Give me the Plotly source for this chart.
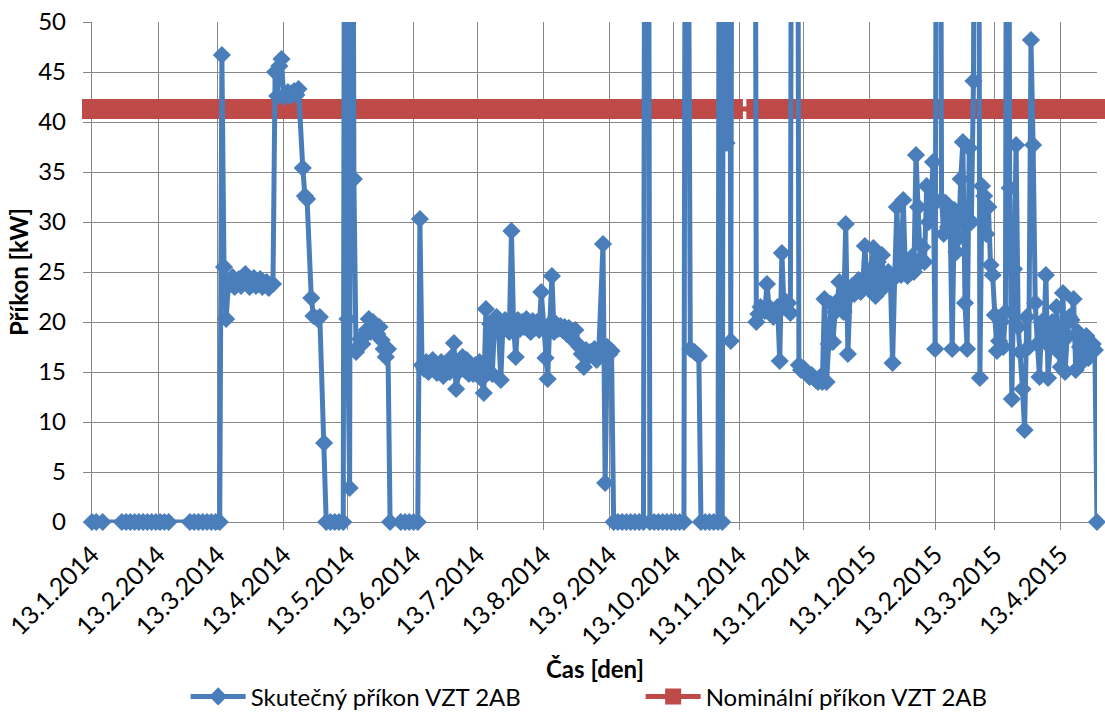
import pandas as pd
import plotly.graph_objects as go

START = pd.Timestamp("2014-01-13")
END = pd.Timestamp("2015-04-30")

# ---- measured power (day offset from 13.1.2014, kW); values > 50 run off the chart ----
winter_days = [0, 2, 5, 14, 16, 18, 20, 22, 24, 26, 28, 30, 32, 34, 36, 46, 48, 50, 52, 54, 56, 58, 60]
winter_kw = [0, 0, 0, 0, 0, 0, 0, 0, 0, 0, 0, 0, 0, 0, 0, 0, 0, 0, 0, 0, 0, 0, 0]

spring_days = [61, 62, 63, 64, 65, 66, 67, 68, 69, 70, 71, 72, 73, 74, 75, 76, 77, 78, 79, 80,
               81, 82, 83, 84, 85, 86, 87, 88, 89, 90, 91, 92, 93, 94, 95, 96, 97, 99, 100, 101,
               103, 104, 106, 107, 109]
spring_kw = [46.7, 25.5, 20.3, 23.6, 24.0, 24.5, 23.5, 23.8, 24.3, 23.6, 24.2, 24.8, 24.1, 23.5, 23.9,
             24.4, 23.6, 23.8, 24.3, 23.5, 23.8, 24.0, 23.4, 23.7, 23.8, 45.0, 42.6, 45.6, 46.3, 42.5,
             42.8, 43.0, 42.6, 42.9, 43.1, 42.7, 43.3, 35.4, 32.6, 32.3, 22.4, 20.6, 20.3, 20.5, 7.9]

may_days = [110, 112, 114, 116, 118, 119, 120, 121, 122, 123, 124, 125, 126, 127, 128, 129, 130,
            131, 132, 133, 134, 135, 136, 137, 138, 139, 140, 145, 147, 149, 151, 153]
may_kw = [0, 0, 0, 0, 0, 120, 20.3, 3.4, 120, 34.3, 17.0, 17.5, 18.3, 17.8, 18.6, 19.2, 20.3,
          19.0, 20.0, 19.7, 18.8, 19.5, 18.2, 17.3, 16.5, 17.3, 0, 0, 0, 0, 0, 0]

summer_days = [154, 155, 156, 157, 158, 159, 160, 161, 162, 163, 164, 165, 166, 167, 168, 169, 170,
               171, 172, 173, 174, 175, 176, 177, 178, 179, 180, 181, 182, 183, 184, 185, 186, 187,
               188, 189, 190, 191, 192, 193, 194, 195, 196, 197, 198, 199, 200, 201, 202, 203, 204,
               205, 206, 207, 208, 209, 210, 211, 212, 213, 214, 215, 216, 217, 218, 219, 220, 221,
               222, 223, 224, 225, 226, 227, 228, 229, 230, 231, 232, 233, 234, 235, 236, 237, 238,
               240, 241, 242, 243, 244]
summer_kw = [30.3, 15.7, 15.3, 16.0, 15.0, 15.5, 16.2, 15.6, 14.9, 15.4, 16.0, 14.6, 15.2, 15.8, 15.0,
             16.5, 17.9, 13.3, 15.0, 15.8, 16.5, 15.2, 16.2, 14.8, 15.5, 14.8, 15.7, 15.2, 16.0, 14.3,
             12.9, 21.3, 15.0, 19.8, 14.8, 19.5, 20.5, 19.0, 14.2, 19.8, 20.2, 19.5, 19.0, 29.1, 19.6,
             16.5, 20.2, 19.3, 20.0, 19.5, 20.3, 19.6, 19.0, 20.1, 19.4, 20.0, 19.2, 23.0, 19.5, 16.4,
             14.3, 19.8, 24.6, 19.0, 19.8, 19.3, 19.6, 19.2, 19.5, 18.8, 19.4, 18.6, 18.2, 19.2, 17.8,
             17.5, 16.8, 15.5, 17.2, 16.5, 17.0, 16.8, 17.3, 16.2, 17.0, 27.8, 3.9, 17.5, 16.8, 17.1]

autumn_days = [245, 247, 249, 251, 253, 255, 257, 259, 260, 261, 262, 264, 266, 268, 270, 272, 274,
               276, 278, 279, 281, 283, 285, 286, 288, 290, 292, 294, 295, 296, 297, 298, 299, 300,
               301, 311, 312]
autumn_kw = [0, 0, 0, 0, 0, 0, 0, 0, 120, 120, 0, 0, 0, 0, 0, 0, 0,
             0, 0, 120, 17.3, 17.0, 16.6, 0, 0, 0, 0, 0, 120, 0, 120, 37.9, 120, 18.1,
             120, 120, 20.0]

heating_days = [313, 314, 316, 317, 318, 319, 320, 321, 322, 323, 324, 325, 326, 327, 328, 329, 331,
                332, 333, 334, 335, 336, 337, 338, 339, 340, 341, 342, 343, 344, 345, 346, 347, 348,
                349, 350, 351, 352, 353, 354, 355, 356, 357, 358, 359, 360, 361, 362, 363, 364, 365,
                366, 367, 368, 369, 370, 371, 372, 373, 374, 375, 376, 377, 378, 379, 380, 381, 382,
                383, 384, 385, 386, 387, 388, 389, 390, 391, 392, 393, 394, 395, 396, 397, 398, 399,
                400, 401, 402, 403, 404, 405, 406, 407, 408, 409, 410, 411, 412, 413, 414, 415, 416]
heating_kw = [20.8, 21.5, 21.1, 23.8, 21.5, 21.0, 20.5, 21.0, 21.5, 16.1, 26.9, 21.5, 22.0, 21.9, 20.9,
              120, 120, 15.7, 15.2, 15.4, 15.0, 14.8, 14.5, 14.7, 14.4, 14.2, 14.0, 14.5, 14.0, 22.3,
              14.0, 17.8, 21.8, 18.0, 21.0, 22.0, 24.0, 22.5, 21.0, 29.8, 16.8, 22.6, 23.6, 22.8, 23.2,
              24.2, 23.0, 23.8, 27.6, 24.0, 23.3, 25.3, 27.4, 22.6, 26.0, 24.2, 26.7, 23.5, 24.5, 25.0,
              24.0, 15.9, 24.5, 31.5, 25.0, 24.7, 32.2, 25.3, 24.6, 25.3, 26.5, 25.0, 36.7, 31.5, 26.0,
              27.5, 26.0, 33.6, 30.0, 31.5, 36.0, 17.3, 120, 120, 32.2, 28.8, 31.9, 29.5, 30.5, 17.3,
              31.2, 27.0, 28.4, 34.3, 38.0, 21.9, 17.3, 37.4, 30.0, 44.1, 120, 120]

late_days = [417, 418, 419, 420, 421, 422, 423, 424, 425, 426, 427, 428, 429, 430, 431, 432, 433, 434,
             435, 436, 437, 438, 439, 440, 441, 442, 443, 444, 445, 446, 447, 448, 449, 450, 451, 452,
             453, 454, 455, 456, 457, 458, 459, 460, 461, 462, 463, 464, 465, 466, 467, 468, 469, 470,
             471, 472]
late_kw = [14.4, 33.6, 32.6, 28.8, 31.5, 25.7, 24.7, 20.7, 17.1, 18.1, 20.0, 17.5, 21.0, 120, 33.4,
           12.3, 25.3, 37.7, 19.5, 17.0, 13.3, 9.2, 20.5, 17.5, 48.2, 37.7, 21.9, 17.8, 14.5, 20.0,
           18.5, 24.7, 14.4, 17.5, 20.0, 18.0, 21.5, 17.0, 15.5, 22.9, 15.0, 18.5, 20.5, 20.2, 22.3,
           15.2, 19.0, 17.5, 16.0, 18.0, 18.6, 16.4, 17.5, 17.8, 17.2, 0]

# ---- nominal power (constant) and the periods (day offsets) for which it is listed ----
NOMINAL_KW = 41.3
nominal_periods = [(0, 301), (312, 472)]

TICK_LABEL_STEP = "M1"
TICK_FORMAT = "%-d.%-m.%Y"
X_TITLE = "Čas [den]"
Y_TITLE = "Příkon [kW]"

BLUE = "#4A7EBB"
RED = "#BE4B48"
GRID = "#878787"
FONT = "Lato, Carlito, Calibri, sans-serif"

actual_days = winter_days + spring_days + may_days + summer_days + autumn_days + heating_days + late_days
actual_kw = winter_kw + spring_kw + may_kw + summer_kw + autumn_kw + heating_kw + late_kw
actual_dates = START + pd.to_timedelta(actual_days, unit="D")

nom_days = []
for a, b in nominal_periods:
    nom_days += list(range(a, b + 1))
nom_dates = START + pd.to_timedelta(nom_days, unit="D")
nom_kw = [NOMINAL_KW] * len(nom_days)

fig = go.Figure()
fig.add_trace(go.Scatter(
    x=nom_dates, y=nom_kw, mode="lines+markers", name="Nominální příkon VZT 2AB",
    line=dict(color=RED, width=5),
    marker=dict(symbol="square", size=20, color=RED),
    cliponaxis=False,
))
fig.add_trace(go.Scatter(
    x=actual_dates, y=actual_kw, mode="lines+markers", name="Skutečný příkon VZT 2AB",
    line=dict(color=BLUE, width=5),
    marker=dict(symbol="diamond", size=14, color=BLUE),
    cliponaxis=False,
))

fig.update_layout(
    width=1105, height=714,
    margin=dict(l=92, r=8, t=22, b=192, autoexpand=False),
    paper_bgcolor="white", plot_bgcolor="white",
    font=dict(family=FONT, size=24, color="black"),
    showlegend=True,
    legend=dict(
        orientation="h", traceorder="reversed",
        x=0.168, xanchor="left", xref="container",
        y=0.024, yanchor="middle", yref="container",
        font=dict(size=24), itemwidth=55, entrywidth=385,
        bgcolor="rgba(0,0,0,0)",
    ),
    annotations=[dict(
        text="<b>" + X_TITLE + "</b>", xref="paper", yref="paper",
        x=0.5, y=-0.292, xanchor="center", yanchor="middle",
        showarrow=False, font=dict(size=24),
    )],
)
fig.update_xaxes(
    type="date", range=[START, END], automargin=False,
    tick0=START, dtick=TICK_LABEL_STEP, tickformat=TICK_FORMAT, tickangle=-45,
    showgrid=True, gridcolor=GRID, gridwidth=1.4,
    showline=True, linecolor=GRID, linewidth=1.4,
    ticks="outside", ticklen=7, tickcolor=GRID, tickwidth=1.4,
    tickfont=dict(size=25), layer="below traces",
    zeroline=False,
)
fig.update_yaxes(
    range=[0, 50], dtick=5, automargin=True,
    showgrid=True, gridcolor=GRID, gridwidth=1.4,
    showline=True, linecolor=GRID, linewidth=1.4,
    ticks="outside", ticklen=8, tickcolor=GRID, tickwidth=1.4,
    tickfont=dict(size=24), ticklabelstandoff=12, layer="below traces",
    title=dict(text="<b>" + Y_TITLE + "</b>", font=dict(size=24), standoff=2),
    zeroline=False,
)

fig.write_html("out.html")
